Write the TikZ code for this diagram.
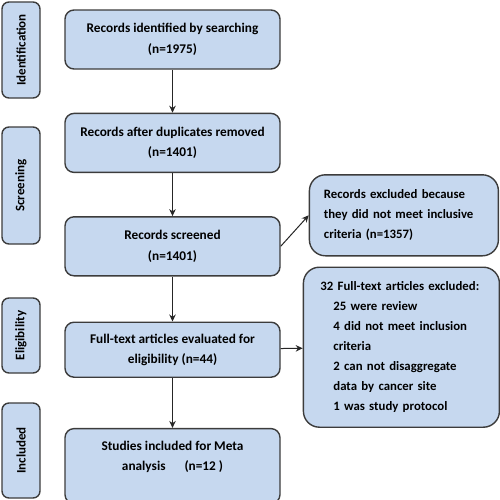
\documentclass[tikz,border=0pt]{standalone}
\usepackage{fontspec}
\setmainfont{Carlito}
\usetikzlibrary{shapes.geometric, arrows.meta, positioning}
\definecolor{boxblue}{RGB}{198,216,239}
\definecolor{boxline}{RGB}{60,60,60}
\tikzstyle{stage} = [rectangle, rounded corners=7pt, rotate=90, minimum height=38pt, inner sep=0pt, text centered, draw=boxline, line width=1.4pt, fill=boxblue, font=\fontsize{13pt}{15pt}\selectfont\bfseries]
\tikzstyle{process} = [rectangle, rounded corners=9pt, minimum width=215pt, minimum height=59pt, inner sep=0pt, align=center, draw=boxline, line width=1.4pt, fill=boxblue, font=\fontsize{13.3pt}{20.5pt}\selectfont\bfseries]
\tikzstyle{excluded} = [rectangle, rounded corners=16pt, inner sep=0pt, align=left, draw=boxline, line width=1.4pt, fill=boxblue, font=\fontsize{12.8pt}{20pt}\selectfont\bfseries]
\tikzstyle{arrow} = [-{Stealth[length=7pt,width=6.5pt]}, draw=black!85, line width=1pt]

\begin{document}
\begin{tikzpicture}[x=1pt, y=1pt, node distance=43pt]
\useasboundingbox (0,0) rectangle (500,-499);

\node (ident) [stage, minimum width=96pt] at (21,-50) {Identification};
\node (screen) [stage, minimum width=117pt] at (21,-185.5) {Screening};
\node (elig) [stage, minimum width=75pt] at (21,-335.5) {Eligibility};
\node (incl) [stage, minimum width=95pt] at (21,-450.5) {Included};

\node (search) [process] at (172.5,-39.5) {Records identified by searching\\(n=1975)};
\node (dupl) [process, below=of search] {Records after duplicates removed\\(n=1401)};
\node (screened) [process, below=of dupl] {Records screened\\(n=1401)};
\node (fulltext) [process, below=45pt of screened, minimum height=55pt] {Full-text articles evaluated for\\eligibility (n=44)};
\node (meta) [process, below=50pt of fulltext, minimum height=75pt] {Studies included for Meta\\analysis\hspace{1.2em} (n=12 )\\\mbox{}};

\node (excl1) [excluded, right=28pt of screened, yshift=31pt, minimum width=189pt, minimum height=81pt, text width=160pt] {Records excluded because\\they did not meet inclusive\\criteria (n=1357)};
\node (excl2) [excluded, right=22pt of fulltext, yshift=2.5pt, minimum width=196pt, minimum height=160pt, text width=162pt] {32 Full-text articles excluded:\\
\hspace*{13pt}25 were review\\
\hspace*{13pt}4 did not meet inclusion\\
\hspace*{13pt}criteria\\
\hspace*{13pt}2 can not disaggregate\\
\hspace*{13pt}data by cancer site\\
\hspace*{13pt}1 was study protocol};

\draw [arrow] (search) -- (dupl);
\draw [arrow] (dupl) -- (screened);
\draw [arrow] (screened) -- (fulltext);
\draw [arrow] (fulltext) -- (meta);
\draw [arrow] (screened.east) -- (excl1.west);
\draw [arrow] (fulltext) -- (excl2);
\end{tikzpicture}
\end{document}
